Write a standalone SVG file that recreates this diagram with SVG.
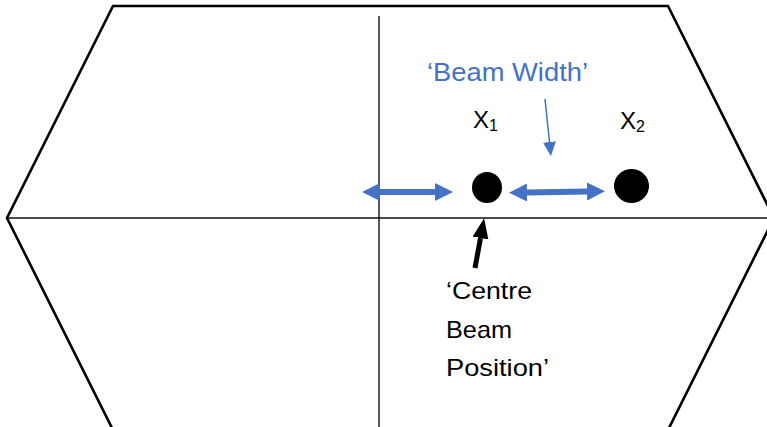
<svg xmlns="http://www.w3.org/2000/svg" width="767" height="427" viewBox="0 0 767 427">
<style>
.frame{fill:none;stroke:#000;stroke-width:2.6;stroke-linejoin:miter}
.axis{fill:none;stroke:#111;stroke-width:1.4}
.dot{fill:#000}
.lbl{font-family:"Liberation Sans",Arial,sans-serif;font-size:24px;fill:#000}
.blue{fill:#4472C4}
.thickblue{fill:none;stroke:#4472C4;stroke-width:6}
.thinblue{fill:none;stroke:#4472C4;stroke-width:1.5}
.thickblack{fill:none;stroke:#000;stroke-width:5}
</style>
<defs>
<marker id="bhead" markerUnits="userSpaceOnUse" markerWidth="18" markerHeight="18" refX="0" refY="9" orient="auto-start-reverse" viewBox="0 0 18 18">
<path d="M0,0 L18,9 L0,18 z" fill="#4472C4"/>
</marker>
<marker id="khead" markerUnits="userSpaceOnUse" markerWidth="20" markerHeight="16" refX="0" refY="8" orient="auto" viewBox="0 0 20 16">
<path d="M0,0 L20,8 L0,16 z" fill="#000"/>
</marker>
<marker id="thead" markerUnits="userSpaceOnUse" markerWidth="14" markerHeight="13" refX="0" refY="6.5" orient="auto" viewBox="0 0 14 13">
<path d="M0,0 L14,6.5 L0,13 z" fill="#4472C4"/>
</marker>
</defs>
<g id="frame">
<polygon class="frame" points="113,6 668,6 774,218 668,430 113,430 7,218"/>
<line class="axis" x1="7" y1="218" x2="767" y2="218"/>
<line class="axis" x1="379" y1="16" x2="379" y2="427"/>
</g>
<g id="x1">
<ellipse class="dot" cx="487" cy="187.5" rx="15" ry="15.5"/>
<text class="lbl" x="473" y="128" font-size="23">X<tspan font-size="16" dy="3">1</tspan></text>
</g>
<g id="x2">
<ellipse class="dot" cx="631.5" cy="186" rx="17.5" ry="17"/>
<text class="lbl" x="620" y="129" font-size="23">X<tspan font-size="16" dy="3">2</tspan></text>
</g>
<g id="beam-width-label">
<text class="lbl blue" x="427" y="81" style="font-size:25px" textLength="161" lengthAdjust="spacingAndGlyphs">‘Beam Width’</text>
</g>
<g id="centre-label">
<text class="lbl" x="446" y="299" textLength="86" lengthAdjust="spacingAndGlyphs">‘Centre</text>
<text class="lbl" x="446" y="338" textLength="66" lengthAdjust="spacingAndGlyphs">Beam</text>
<text class="lbl" x="446" y="376" textLength="103" lengthAdjust="spacingAndGlyphs">Position’</text>
</g>
<g id="connectors">
<line class="thickblue" x1="380" y1="192" x2="435" y2="192" marker-start="url(#bhead)" marker-end="url(#bhead)"/>
<line class="thickblue" x1="527" y1="192.5" x2="587" y2="191.5" marker-start="url(#bhead)" marker-end="url(#bhead)"/>
<line class="thickblack" x1="475" y1="268" x2="480.5" y2="238" marker-end="url(#khead)"/>
<line class="thinblue" x1="545" y1="99" x2="549.5" y2="142" marker-end="url(#thead)"/>
</g>
</svg>
